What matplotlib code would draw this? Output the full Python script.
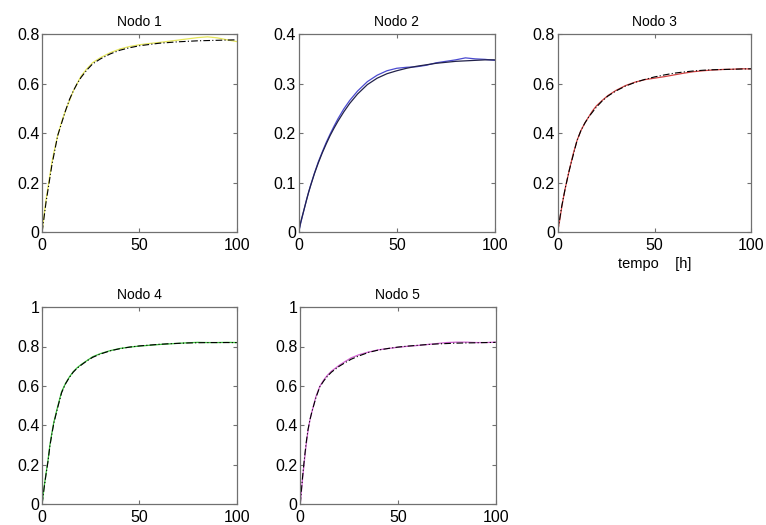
import matplotlib
matplotlib.use("Agg")
import matplotlib.pyplot as plt
from matplotlib.ticker import FuncFormatter

plt.rcParams["font.family"] = ["Liberation Sans", "DejaVu Sans"]

########################################
# Data
########################################
t = [0, 1, 2, 3, 4, 5, 6, 8, 10, 12, 14, 16, 18, 20, 23, 26, 30, 35, 40, 45,
     50, 55, 60, 65, 70, 75, 80, 85, 90, 95, 100]

# Nodo 1
n1_meas = [0, 0.07, 0.13, 0.18, 0.23, 0.28, 0.32, 0.39, 0.445, 0.49, 0.53, 0.57, 0.60, 0.63,
           0.66, 0.685, 0.705, 0.725, 0.74, 0.75, 0.757, 0.762, 0.766, 0.771, 0.776, 0.781,
           0.786, 0.789, 0.785, 0.777, 0.770]
n1_mod = [0, 0.06, 0.12, 0.17, 0.22, 0.27, 0.31, 0.39, 0.44, 0.49, 0.535, 0.57, 0.60, 0.625,
          0.655, 0.68, 0.70, 0.72, 0.735, 0.745, 0.753, 0.758, 0.763, 0.766, 0.769, 0.771,
          0.773, 0.774, 0.775, 0.776, 0.777]

# Nodo 2
n2_meas = [0, 0.018, 0.034, 0.05, 0.066, 0.08, 0.094, 0.119, 0.142, 0.162, 0.181, 0.198, 0.214,
           0.229, 0.249, 0.266, 0.285, 0.304, 0.317, 0.326, 0.331, 0.333, 0.334, 0.337, 0.342,
           0.345, 0.348, 0.352, 0.350, 0.349, 0.347]
n2_mod = [0, 0.02, 0.035, 0.05, 0.065, 0.08, 0.093, 0.118, 0.14, 0.16, 0.178, 0.195, 0.21,
          0.224, 0.243, 0.26, 0.279, 0.298, 0.311, 0.32, 0.326, 0.331, 0.335, 0.338, 0.341,
          0.343, 0.345, 0.346, 0.347, 0.348, 0.348]

# Nodo 3
n3_meas = [0, 0.045, 0.095, 0.14, 0.18, 0.215, 0.25, 0.315, 0.37, 0.41, 0.44, 0.465, 0.49,
           0.51, 0.532, 0.552, 0.572, 0.592, 0.606, 0.616, 0.622, 0.628, 0.635, 0.642, 0.648,
           0.652, 0.655, 0.657, 0.658, 0.66, 0.659]
n3_mod = [0, 0.05, 0.10, 0.14, 0.18, 0.215, 0.25, 0.31, 0.37, 0.41, 0.44, 0.465, 0.485, 0.505,
          0.53, 0.55, 0.57, 0.59, 0.605, 0.617, 0.627, 0.635, 0.642, 0.647, 0.651, 0.654,
          0.656, 0.657, 0.658, 0.659, 0.66]

# Nodo 4
n4_meas = [0, 0.085, 0.155, 0.22, 0.3, 0.36, 0.415, 0.495, 0.57, 0.612, 0.645, 0.672, 0.692,
           0.708, 0.728, 0.748, 0.764, 0.779, 0.79, 0.797, 0.802, 0.806, 0.81, 0.813, 0.816,
           0.819, 0.821, 0.82, 0.82, 0.821, 0.82]
n4_mod = [0, 0.08, 0.15, 0.215, 0.295, 0.355, 0.41, 0.49, 0.565, 0.61, 0.643, 0.67, 0.69,
          0.705, 0.727, 0.745, 0.762, 0.778, 0.789, 0.797, 0.803, 0.807, 0.811, 0.814,
          0.816, 0.818, 0.819, 0.82, 0.82, 0.82, 0.82]

# Nodo 5
n5_meas = [0, 0.11, 0.21, 0.30, 0.375, 0.43, 0.47, 0.545, 0.598, 0.63, 0.655, 0.675, 0.69,
           0.705, 0.724, 0.742, 0.758, 0.772, 0.783, 0.79, 0.796, 0.801, 0.805, 0.81, 0.815,
           0.82, 0.822, 0.822, 0.82, 0.82, 0.822]
n5_mod = [0, 0.12, 0.22, 0.31, 0.38, 0.43, 0.47, 0.54, 0.595, 0.625, 0.65, 0.67, 0.685, 0.70,
          0.718, 0.735, 0.752, 0.77, 0.782, 0.79, 0.797, 0.802, 0.806, 0.81, 0.813, 0.815,
          0.817, 0.818, 0.819, 0.82, 0.821]

titles = ["Nodo 1", "Nodo 2", "Nodo 3", "Nodo 4", "Nodo 5"]
measured = [n1_meas, n2_meas, n3_meas, n4_meas, n5_meas]
model = [n1_mod, n2_mod, n3_mod, n4_mod, n5_mod]
colors = ["#e6e65c", "#4a4ad0", "#d04040", "#3cc03c", "#d060d0"]
ymax = [0.8, 0.4, 0.8, 1.0, 1.0]
ysteps = [0.2, 0.1, 0.2, 0.2, 0.2]

########################################
# Layout (figure fractions)
########################################
boxes = [
    [0.055, 0.558, 0.254, 0.377],
    [0.390, 0.558, 0.256, 0.377],
    [0.728, 0.558, 0.253, 0.377],
    [0.055, 0.040, 0.254, 0.375],
    [0.392, 0.040, 0.255, 0.375],
]

fig = plt.figure(figsize=(7.66, 5.25), dpi=100)

for i in range(5):
    ax = fig.add_axes(boxes[i])
    ax.plot(t, measured[i], color=colors[i], lw=0.9)
    if i == 1:
        ax.plot(t, model[i], color="#22224a", lw=0.9)
    else:
        ax.plot(t, model[i], color="black", lw=0.8, ls=(0, (6, 2, 1, 2)))
    ax.set_xlim(0, 100)
    ax.set_ylim(0, ymax[i])
    ax.set_xticks([0, 50, 100])
    n = int(round(ymax[i] / ysteps[i]))
    ax.set_yticks([k * ysteps[i] for k in range(n + 1)])
    ax.yaxis.set_major_formatter(FuncFormatter(lambda v, p: f"{v:g}"))
    ax.tick_params(direction="in", top=True, right=True, length=3,
                   labelsize=11.5, color="#707070", pad=2)
    ax.tick_params(axis="x", pad=4)
    for s in ax.spines.values():
        s.set_color("#707070")
        s.set_linewidth(0.9)
    ax.set_title(titles[i], fontsize=10, pad=6)
    if i == 2:
        ax.set_xlabel("tempo    [h]", fontsize=10.5, labelpad=3)

fig.savefig("out.png", dpi=100)
